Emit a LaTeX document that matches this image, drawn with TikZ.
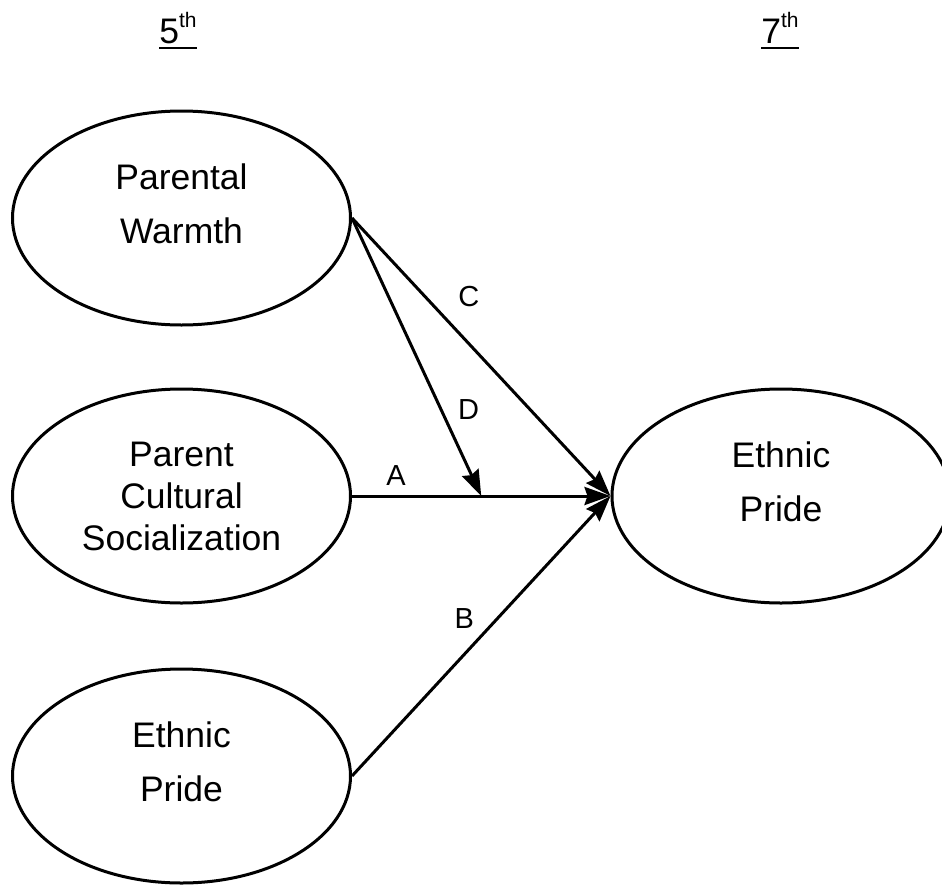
\documentclass[tikz,border=0pt]{standalone}
\usepackage{fontspec}
\setmainfont{Liberation Sans}
\usetikzlibrary{arrows.meta,positioning,calc,shapes.geometric}

\begin{document}
\begin{tikzpicture}[x=10pt,y=10pt,>={Stealth[length=26pt,width=18pt,inset=3pt]},every node/.style={font=\fontsize{35.5}{54}\selectfont},v/.style={ellipse,draw,line width=3pt,minimum width=338pt,minimum height=214pt,inner sep=0pt,align=center,text depth=29pt},a/.style={->,line width=3pt},l/.style={font=\fontsize{29}{29}\selectfont},u/.style={line width=2.5pt}]
\useasboundingbox (0,0) rectangle (94.2,-88.6);
\node[anchor=base,inner sep=0pt] (h5) at (17.8,-4.3) {5\raisebox{16pt}{\fontsize{21}{21}\selectfont th}};
\node[anchor=base,inner sep=0pt] (h7) at (78.0,-4.3) {7\raisebox{16pt}{\fontsize{21}{21}\selectfont th}};
\draw[u] ([yshift=-5pt]h5.base west)--([yshift=-5pt]h5.base east);\draw[u] ([yshift=-5pt]h7.base west)--([yshift=-5pt]h7.base east);
\node[v] (pw) at (18.15,-21.8) {Parental\\Warmth};
\node[v,font=\fontsize{35.5}{42}\selectfont,text depth=0pt] (pcs) at (18.15,-49.6) {Parent\\Cultural\\Socialization};
\node[v] (ep5) at (18.15,-77.6) {Ethnic\\Pride};
\node[v] (ep7) at (78.1,-49.6) {Ethnic\\Pride};
\coordinate (m) at ($(pcs.east)!0.5!(ep7.west)$);
\draw[a] (pcs)--node[l,above=6pt,pos=.17]{A}(ep7.west);
\draw[a] (ep5.east)--node[l,left=19pt,pos=.564]{B}(ep7.west);
\draw[a] (pw.east)--node[l,right=28pt,pos=.284]{C}(ep7.west);
\draw[a] (pw.east)--node[l,right=12pt,pos=.69]{D}(m);
\end{tikzpicture}
\end{document}
